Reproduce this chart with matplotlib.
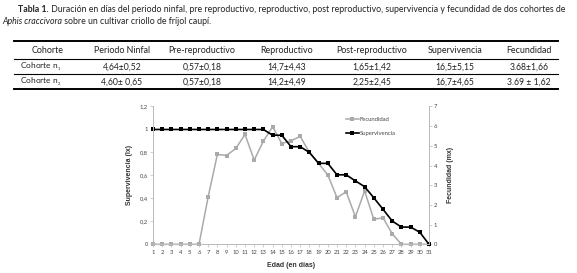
import matplotlib
matplotlib.use("Agg")
import matplotlib.pyplot as plt
from matplotlib.lines import Line2D

plt.rcParams['font.family'] = ['Lato', 'DejaVu Sans']
plt.rcParams['mathtext.fontset'] = 'custom'
plt.rcParams['mathtext.rm'] = 'Lato'
plt.rcParams['mathtext.it'] = 'Lato:italic'
plt.rcParams['mathtext.default'] = 'regular'

# ---- data ----
title_bold = "Tabla 1."
title_rest = " Duración en días del periodo ninfal, pre reproductivo, reproductivo, post reproductivo, supervivencia y fecundidad de dos cohortes de"
title_line2_it = "Aphis craccivora"
title_line2_rest = " sobre un cultivar criollo de fríjol caupí."

table_headers = ["Cohorte", "Periodo Ninfal", "Pre-reproductivo", "Reproductivo",
                 "Post-reproductivo", "Supervivencia", "Fecundidad"]
row1 = ["Cohorte n$_{_1}$", "4,64±0,52", "0,57±0,18", "14,7±4,43", "1,65±1,42", "16,5±5,15", "3.68±1,66"]
row2 = ["Cohorte n$_{_2}$", "4,60± 0,65", "0,57±0,18", "14,2±4,49", "2,25±2,45", "16,7±4,65", "3.69 ± 1,62"]

days = list(range(1, 32))
supervivencia = [1, 1, 1, 1, 1, 1, 1, 1, 1, 1, 1, 1, 1, 0.95, 0.95, 0.85, 0.85, 0.80, 0.705,
                 0.705, 0.605, 0.605, 0.552, 0.502, 0.405, 0.305, 0.203, 0.15, 0.15, 0.105, 0.0]
fecundidad = [0, 0, 0, 0, 0, 0, 2.42, 4.57, 4.51, 4.87, 5.58, 4.28, 5.24, 5.97, 5.12, 5.26,
              5.48, 4.67, 4.11, 3.52, 2.37, 2.67, 1.40, 2.71, 1.27, 1.35, 0.54, 0, 0, 0, 0]
left_ticks = [0, 0.2, 0.4, 0.6, 0.8, 1.0, 1.2]
left_ticklabels = ["0", "0,2", "0,4", "0,6", "0,8", "1", "1,2"]
right_ticks = [0, 1, 2, 3, 4, 5, 6, 7]

W, H = 577, 273
fig = plt.figure(figsize=(W / 100, H / 100), dpi=100)

def fx(x):
    return x / W

def fy(y):
    return 1 - y / H

txtc = '#222222'
# ---- title ----
t1 = fig.text(fx(18), fy(10), title_bold, fontsize=6.3, fontweight='bold', color=txtc, va='center', ha='left')
fig.canvas.draw()
bb = t1.get_window_extent()
fig.text(bb.x1 / W / (fig.dpi / 100), fy(10), title_rest, fontsize=6.3, color=txtc, va='center', ha='left')
t2 = fig.text(fx(2), fy(22), title_line2_it, fontsize=6.3, style='italic', color=txtc, va='center', ha='left')
fig.canvas.draw()
bb2 = t2.get_window_extent()
fig.text(bb2.x1 / W / (fig.dpi / 100), fy(22), title_line2_rest, fontsize=6.3, color=txtc, va='center', ha='left')

# ---- table ----
x0, x1 = 14, 558
for yy, lw in [(41, 1.4), (59, 0.8), (74.5, 0.8), (89.5, 1.4)]:
    fig.add_artist(Line2D([fx(x0), fx(x1)], [fy(yy), fy(yy)], color='black', lw=lw))
col_centers = [48, 122, 202, 287, 372, 455, 529]
for i, h in enumerate(table_headers):
    fig.text(fx(col_centers[i]), fy(50.5), h, fontsize=6.4, color=txtc, ha='center', va='center')
for row, yy in [(row1, 66.8), (row2, 82)]:
    for i, v in enumerate(row):
        if i == 0:
            fig.text(fx(20.5), fy(yy), v, fontsize=6.0, color=txtc, ha='left', va='center')
        else:
            fig.text(fx(col_centers[i]), fy(yy), v, fontsize=6.2, color=txtc, ha='center', va='center')

# ---- chart ----
ax = fig.add_axes([fx(153), fy(244.3), fx(429) - fx(153), fy(106.5) - fy(244.3)])
ax2 = ax.twinx()
ax.set_zorder(ax2.get_zorder() + 1)
ax.patch.set_visible(False)

gray = '#aaaaaa'
l2, = ax2.plot(days, fecundidad, color=gray, lw=1.1, marker='s', markersize=2.9,
               markeredgewidth=0, label='Fecundidad', clip_on=False)
l1, = ax.plot(days, supervivencia, color='black', lw=1.2, marker='s', markersize=2.9,
              markeredgewidth=0, label='Supervivencia', clip_on=False)

ax.set_xlim(1, 31)
ax.set_ylim(0, 1.2)
ax2.set_ylim(0, 7)
ax.set_xticks(days)
ax.set_xticklabels([str(d) for d in days])
ax.set_yticks(left_ticks)
ax.set_yticklabels(left_ticklabels)
ax2.set_yticks(right_ticks)

spc = '#bbbbbb'
for a in (ax, ax2):
    for s in ['top']:
        a.spines[s].set_visible(False)
    for s in ['left', 'right', 'bottom']:
        a.spines[s].set_color(spc)
        a.spines[s].set_linewidth(0.7)
    a.tick_params(labelsize=4.2, colors='#444444', length=2, width=0.5, pad=1.5, color=spc)
ax.tick_params(axis='x', pad=2)

ax.set_ylabel('Supervivencia (lx)', fontsize=5, fontweight='bold', color='#333333', labelpad=5,
              family=['Liberation Sans', 'DejaVu Sans'])
ax2.set_ylabel('Fecundidad (mx)', fontsize=5, fontweight='bold', color='#333333', labelpad=7,
               family=['Liberation Sans', 'DejaVu Sans'])
ax.set_xlabel('Edad (en días)', fontsize=5, fontweight='bold', color='#333333', labelpad=5,
              family=['Liberation Sans', 'DejaVu Sans'])

fig.legend(handles=[l2, l1], loc='upper left', bbox_to_anchor=(fx(343), fy(114)), frameon=False,
           fontsize=4.2, handlelength=2.2, labelspacing=1.6, handletextpad=0.2, borderpad=0,
           labelcolor='#444444')

fig.savefig('out.png', dpi=100)
